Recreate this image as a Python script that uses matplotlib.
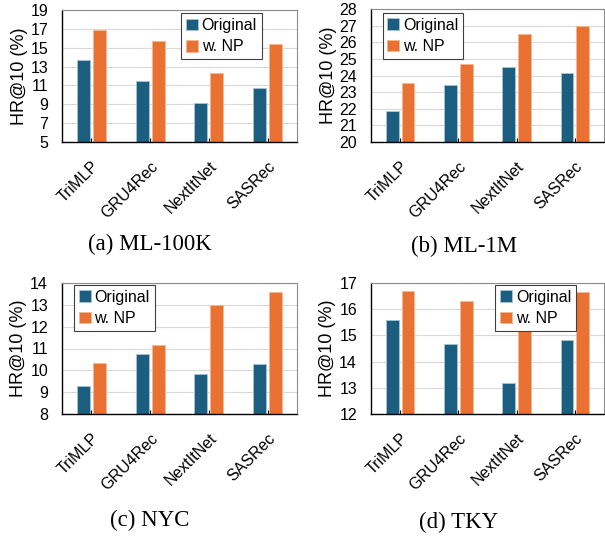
import numpy as np
import matplotlib
matplotlib.use('Agg')
import matplotlib.pyplot as plt

models = ['TriMLP', 'GRU4Rec', 'NextItNet', 'SASRec']

# HR@10 (%) per dataset
ml100k_orig = [13.65, 11.45, 9.1, 10.7]
ml100k_np = [16.9, 15.75, 12.3, 15.35]
ml1m_orig = [21.85, 23.45, 24.5, 24.15]
ml1m_np = [23.55, 24.7, 26.5, 26.95]
nyc_orig = [9.3, 10.75, 9.85, 10.3]
nyc_np = [10.35, 11.15, 13.0, 13.6]
tky_orig = [15.6, 14.68, 13.2, 14.83]
tky_np = [16.7, 16.3, 15.4, 16.67]

ml100k_ticks = [5, 7, 9, 11, 13, 15, 17, 19]
ml1m_ticks = [20, 21, 22, 23, 24, 25, 26, 27, 28]
nyc_ticks = [8, 9, 10, 11, 12, 13, 14]
tky_ticks = [12, 13, 14, 15, 16, 17]

captions = ['(a) ML-100K', '(b) ML-1M', '(c) NYC', '(d) TKY']

blue = '#1b5e80'
orange = '#e97132'

fig = plt.figure(figsize=(6.05, 5.37), dpi=100)
W, H = 605, 537

def px_axes(l, t, r, b):
    return fig.add_axes([l / W, 1 - b / H, (r - l) / W, (b - t) / H])

# axes, original, with NP, ticks, legend anchor (upper-left or upper-right corner)
panels = [
    (px_axes(62, 10, 297, 142), ml100k_orig, ml100k_np, ml100k_ticks, ('upper right', (0.85, 0.975))),
    (px_axes(371, 9, 604, 142), ml1m_orig, ml1m_np, ml1m_ticks, ('upper left', (0.05, 0.97))),
    (px_axes(62, 283, 297, 414), nyc_orig, nyc_np, nyc_ticks, ('upper left', (0.05, 0.985))),
    (px_axes(371, 283, 604, 414), tky_orig, tky_np, tky_ticks, ('upper right', (0.88, 0.985))),
]

x = np.arange(len(models))
bw = 0.22
off = 0.135
for ax, orig, wnp, ticks, (loc, anchor) in panels:
    ax.bar(x - off, orig, bw, color=blue, edgecolor='#a9c4d4', linewidth=0.6,
           label='Original', zorder=2)
    ax.bar(x + off, wnp, bw, color=orange, edgecolor='#f5b894', linewidth=0.6,
           label='w. NP', zorder=2)
    ax.set_ylim(ticks[0], ticks[-1])
    ax.set_yticks(ticks)
    ax.set_xlim(-0.5, len(models) - 0.5)
    ax.set_xticks(x)
    ax.set_xticklabels(models, rotation=45, ha='right', rotation_mode='anchor',
                       fontsize=11.5, family='Liberation Sans')
    for lab in ax.get_yticklabels():
        lab.set_family('Liberation Sans')
        lab.set_fontsize(11.5)
    ax.tick_params(axis='x', direction='in', length=3, pad=12)
    ax.tick_params(axis='y', length=0, pad=10)
    ax.yaxis.grid(True, color='#d9d9d9', linewidth=0.8, zorder=0)
    ax.set_axisbelow(True)
    ax.set_ylabel('HR@10 (%)', fontsize=13, family='Liberation Sans', labelpad=2)
    for s in ['top', 'right']:
        ax.spines[s].set_color('#8c8c8c')
        ax.spines[s].set_linewidth(0.8)
    for s in ['left', 'bottom']:
        ax.spines[s].set_color('black')
        ax.spines[s].set_linewidth(1.0)
    leg = ax.legend(loc=loc, bbox_to_anchor=anchor,
                    prop={'family': 'Liberation Sans', 'size': 11.5},
                    handlelength=0.75, handleheight=0.75, handletextpad=0.25,
                    borderpad=0.3, labelspacing=0.4, borderaxespad=0,
                    fancybox=False, framealpha=1, edgecolor='#404040')
    leg.get_frame().set_linewidth(0.8)
    leg.set_zorder(5)

cap_pos = [(150, 244), (464, 246), (150, 520), (459, 522)]
for (cx, cy), txt in zip(cap_pos, captions):
    fig.text(cx / W, 1 - cy / H, txt, ha='center', va='center',
             fontsize=16.5, family='Liberation Serif')

fig.savefig('out.png', dpi=100)
